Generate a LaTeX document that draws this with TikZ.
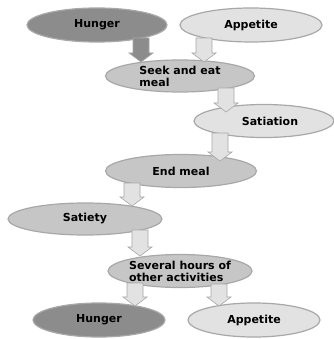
\documentclass[tikz,border=0pt]{standalone}
\usepackage{fontspec}
\setmainfont{DejaVu Sans}
\usetikzlibrary{shapes.geometric,calc}
\definecolor{darkfill}{HTML}{8C8C8C}
\definecolor{midfill}{HTML}{C6C6C6}
\definecolor{lightfill}{HTML}{E2E2E2}
\definecolor{edgegray}{HTML}{A8A8A8}
\tikzset{
  oval/.style={ellipse, draw=edgegray, line width=1.2pt, inner sep=0pt,
    font=\fontsize{11}{12}\selectfont\bfseries, text=black},
  darkoval/.style={oval, fill=darkfill},
  midoval/.style={oval, fill=midfill},
  lightoval/.style={oval, fill=lightfill},
}
\newcommand{\blockarr}[3]{%
  \draw[fill=#3, draw=edgegray, line width=0.6pt, line join=miter]
    let \p1=(#1), \p2=(#2) in
    (\x1-8pt,\y1) -- (\x1+8pt,\y1) -- (\x1+8pt,\y2+9pt) -- (\x1+12pt,\y2+9pt)
    -- (\x1,\y2) -- (\x1-12pt,\y2+9pt) -- (\x1-8pt,\y2+9pt) -- cycle;}
\begin{document}
\begin{tikzpicture}[x=1pt,y=-1pt]
\useasboundingbox (0,0) rectangle (333,339);
\fill[white] (0,0) rectangle (333,339);
\node[darkoval, minimum width=140pt, minimum height=34pt] (h1) at (97,25) {Hunger};
\node[lightoval, minimum width=142pt, minimum height=34pt] (a1) at (251,25) {Appetite};
\node[midoval, minimum width=149pt, minimum height=32pt, align=left] (seek) at (180,76) {Seek and eat\\meal};
\node[lightoval, minimum width=140pt, minimum height=33pt] (sat) at (264,121) {\hspace*{12pt}Satiation};
\node[midoval, minimum width=151pt, minimum height=33pt] (endm) at (181,171) {End meal};
\node[midoval, minimum width=154pt, minimum height=32pt] (satiety) at (85,219) {Satiety};
\node[midoval, minimum width=140pt, minimum height=33pt, align=left] (sev) at (180,271) {Several hours of\\other activities};
\node[darkoval, minimum width=132pt, minimum height=34pt] (h2) at (99,320) {Hunger};
\node[lightoval, minimum width=132pt, minimum height=34pt] (a2) at (254,320) {Appetite};
\blockarr{$(h1.center)+(44,13)$}{$(seek.center)+(-39,-14)$}{darkfill}
\blockarr{$(a1.center)+(-47,13)$}{$(seek.center)+(24,-14)$}{lightfill}
\blockarr{$(seek.center)+(46,12)$}{$(sat.center)+(-38,-9)$}{lightfill}
\blockarr{$(sat.center)+(-44,12)$}{$(endm.center)+(39,-10)$}{lightfill}
\blockarr{$(endm.center)+(-49,12)$}{$(satiety.center)+(47,-13)$}{lightfill}
\blockarr{$(satiety.center)+(55,11)$}{$(sev.center)+(-40,-15)$}{lightfill}
\blockarr{$(sev.center)+(-45,12)$}{$(h2.center)+(36,-14)$}{lightfill}
\blockarr{$(sev.center)+(39,13)$}{$(a2.center)+(-35,-14)$}{lightfill}
\end{tikzpicture}
\end{document}
